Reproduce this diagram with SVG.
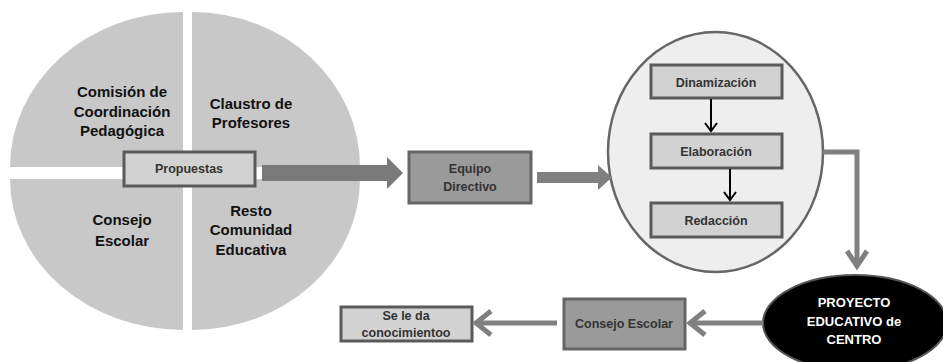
<svg xmlns="http://www.w3.org/2000/svg" width="943" height="362" viewBox="0 0 943 362">
<defs>
<style>
.q{fill:#c8c8c8;}
.t{font-family:"Liberation Sans",Arial,sans-serif;font-weight:bold;text-anchor:middle;fill:#111;}
.big{font-size:15px;}
.sm{font-size:12.5px;fill:#333;}
.box{stroke:#5a5a5a;stroke-width:3;}
.lt{fill:#d2d2d2;}
.dk{fill:#9a9a9a;}
.gl{fill:none;stroke:#808080;stroke-width:5;}
.bl{fill:none;stroke:#000;stroke-width:2;}
</style>
</defs>
<g id="pie">
<path class="q" d="M183,167 L10,167 A173,155 0 0 1 183,12 Z"/>
<path class="q" d="M192,167 L192,12 A168,155 0 0 1 360,167 Z"/>
<path class="q" d="M183,179 L183,330 A173,151 0 0 1 10,179 Z"/>
<path class="q" d="M192,179 L360,179 A168,151 0 0 1 192,330 Z"/>
<text class="t big" x="122" y="97">Comisión de</text>
<text class="t big" x="122" y="117">Coordinación</text>
<text class="t big" x="122" y="136">Pedagógica</text>
<text class="t big" x="251" y="109">Claustro de</text>
<text class="t big" x="251" y="128">Profesores</text>
<text class="t big" x="122" y="225">Consejo</text>
<text class="t big" x="122" y="246">Escolar</text>
<text class="t big" x="251" y="216">Resto</text>
<text class="t big" x="251" y="235">Comunidad</text>
<text class="t big" x="251" y="255">Educativa</text>
</g>
<g id="propuestas">
<rect class="box lt" x="124" y="152" width="131" height="34"/>
<text class="t sm" x="189" y="173">Propuestas</text>
</g>
<g id="equipo">
<rect class="box dk" x="409" y="152" width="122" height="51" style="stroke:#666"/>
<text class="t sm" x="470" y="173">Equipo</text>
<text class="t sm" x="470" y="191">Directivo</text>
</g>
<g id="proceso">
<ellipse cx="715.5" cy="152" rx="107.5" ry="120" fill="#eeeeee" stroke="#666" stroke-width="2.5"/>
</g>
<g id="dinamizacion">
<rect class="box lt" x="651" y="65" width="131" height="33"/>
<text class="t sm" x="716" y="87">Dinamización</text>
</g>
<g id="elaboracion">
<rect class="box lt" x="651" y="134" width="131" height="34"/>
<text class="t sm" x="716" y="156">Elaboración</text>
</g>
<g id="redaccion">
<rect class="box lt" x="651" y="203" width="131" height="34"/>
<text class="t sm" x="716" y="225">Redacción</text>
</g>
<g id="proyecto">
<ellipse cx="855" cy="323" rx="92" ry="48" fill="#000" stroke="#555" stroke-width="2"/>
<text class="t" x="854" y="307" style="font-size:13px;fill:#fff">PROYECTO</text>
<text class="t" x="854" y="326" style="font-size:13px;fill:#fff">EDUCATIVO de</text>
<text class="t" x="854" y="344" style="font-size:13px;fill:#fff">CENTRO</text>
</g>
<g id="consejo">
<rect class="box dk" x="564" y="299" width="121" height="50" style="stroke:#666"/>
<text class="t sm" x="624" y="328">Consejo Escolar</text>
</g>
<g id="conocimiento">
<rect class="box lt" x="341" y="307" width="131" height="34"/>
<text class="t sm" x="406" y="320">Se le da</text>
<text class="t sm" x="406" y="337">conocimientoo</text>
</g>
<g id="connectors">
<polygon points="262,165 387,165 387,157 403,173 387,189 387,181 262,181" fill="#7a7a7a"/>
<polygon points="537,172 598,172 598,165 612,177.5 598,190 598,183 537,183" fill="#808080"/>
<line class="bl" x1="711" y1="99" x2="711" y2="131"/>
<polyline class="bl" points="705,123 711,131 717,123"/>
<line class="bl" x1="730" y1="169" x2="730" y2="200"/>
<polyline class="bl" points="724,192 730,200 736,192"/>
<polyline class="gl" points="823,152 857,152 857,266"/>
<polyline class="gl" points="847,251 857,266 867,251"/>
<line class="gl" x1="763" y1="323" x2="690" y2="323"/>
<polyline class="gl" points="705,311 690,323 705,335"/>
<line class="gl" x1="557" y1="323" x2="476" y2="323"/>
<polyline class="gl" points="491,311 476,323 491,335"/>
</g>
</svg>
